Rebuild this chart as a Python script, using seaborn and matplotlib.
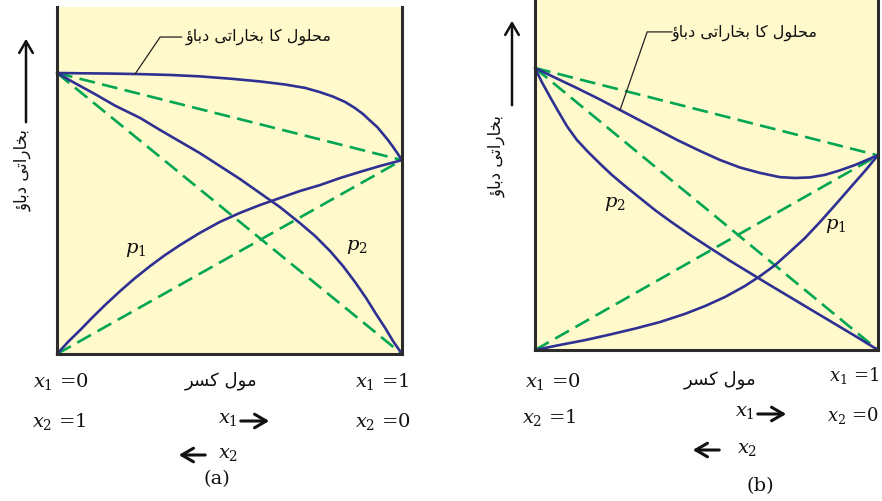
import matplotlib
matplotlib.use("Agg")
import matplotlib.pyplot as plt
from matplotlib.patches import FancyArrowPatch
import seaborn as sns

sns.set_theme(style="white")
plt.rcParams["font.family"] = ["DejaVu Serif", "DejaVu Sans"]
plt.rcParams["mathtext.fontset"] = "dejavuserif"

# ---------------- data (mole fraction x1, vapour pressure) ----------------
P1_PURE = 69.0    # vapour pressure of pure component 1
P2_PURE = 100.0   # vapour pressure of pure component 2

# (a) positive deviation
a_total_x = [0, .067, .154, .241, .328, .414, .510, .588, .661, .719, .762, .800,
             .835, .864, .887, .907, .928, .945, .959, .974, .988, 1.0]
a_total_p = [100, 99.9, 99.8, 99.6, 99.3, 98.8, 97.9, 97.0, 95.9, 94.7, 93.2, 91.6,
             89.7, 87.5, 85.4, 83.1, 80.8, 78.3, 76.2, 73.7, 71.2, 69.0]
a_p2_x = [0, .052, .110, .168, .241, .299, .348, .414, .472, .530, .588, .646,
          .704, .748, .791, .829, .864, .896, .925, .951, .974, 1.0]
a_p2_p = [100, 96.4, 92.5, 88.4, 84.0, 79.7, 76.2, 71.5, 66.9, 62.3, 57.3, 52.3,
          46.6, 42.0, 36.7, 31.3, 25.6, 19.9, 14.2, 9.3, 4.6, 0]
a_p1_x = [0, .032, .067, .101, .139, .183, .226, .270, .313, .357, .414, .472,
          .530, .588, .646, .704, .762, .820, .878, .936, 1.0]
a_p1_p = [0, 4.3, 8.5, 12.8, 17.4, 22.4, 27.0, 31.3, 35.2, 38.8, 43.1, 47.0,
          50.2, 53.0, 55.5, 58.0, 60.1, 62.6, 64.8, 66.9, 69.0]

# (b) negative deviation
b_total_x = [0, .058, .122, .190, .248, .306, .364, .414, .481, .539, .598, .656,
             .714, .758, .802, .845, .889, .933, .968, 1.0]
b_total_p = [100, 96.6, 92.9, 88.8, 85.1, 81.4, 77.7, 74.5, 70.6, 67.4, 64.7, 62.8,
             61.3, 61.0, 61.2, 62.1, 63.7, 65.6, 67.4, 69.1]
b_p2_x = [0, .020, .044, .067, .093, .122, .155, .190, .224, .262, .306, .350,
          .394, .452, .510, .569, .627, .685, .743, .802, .860, .933, 1.0]
b_p2_p = [100, 95.0, 89.7, 84.8, 79.4, 74.5, 70.2, 66.0, 62.1, 58.2, 53.9, 49.6,
          45.7, 40.8, 36.2, 31.6, 27.3, 23.0, 18.8, 14.5, 10.3, 5.0, 0]
b_p1_x = [0, .073, .146, .219, .292, .364, .437, .496, .554, .612, .656, .700,
          .743, .787, .831, .875, .918, .962, 1.0]
b_p1_p = [0, 1.8, 3.5, 5.5, 7.6, 9.9, 12.8, 15.6, 18.8, 22.7, 26.2, 30.1,
          34.8, 39.7, 45.4, 51.4, 57.4, 63.5, 69.1]

# ---------------- labels ----------------
TITLE_UR = "محلول کا بخاراتی دباؤ"
YLABEL_UR = "بخاراتی دباؤ"
XLABEL_UR = "مول کسر"

BLUE = "#2E3192"
GREEN = "#00A651"
CREAM = "#FFF9CC"
EDGE = "#2b2b2b"
INK = "#111111"
W, H = 882, 501

# Presentation forms (isolated, final, initial, medial) for the letters used
FORMS = {
    "ا": ("\uFE8D", "\uFE8E", None, None),
    "ب": ("\uFE8F", "\uFE90", "\uFE91", "\uFE92"),
    "ت": ("\uFE95", "\uFE96", "\uFE97", "\uFE98"),
    "ح": ("\uFEA1", "\uFEA2", "\uFEA3", "\uFEA4"),
    "خ": ("\uFEA5", "\uFEA6", "\uFEA7", "\uFEA8"),
    "د": ("\uFEA9", "\uFEAA", None, None),
    "ر": ("\uFEAD", "\uFEAE", None, None),
    "س": ("\uFEB1", "\uFEB2", "\uFEB3", "\uFEB4"),
    "ل": ("\uFEDD", "\uFEDE", "\uFEDF", "\uFEE0"),
    "م": ("\uFEE1", "\uFEE2", "\uFEE3", "\uFEE4"),
    "و": ("\uFEED", "\uFEEE", None, None),
    "ؤ": ("\uFE85", "\uFE86", None, None),
    "ک": ("\uFB8E", "\uFB8F", "\uFB90", "\uFB91"),
    "ی": ("\uFBFC", "\uFBFD", "\uFBFE", "\uFBFF"),
}


def shape_rtl(text):
    """Join Urdu letters into contextual forms and lay them out right-to-left."""
    out = []
    n = len(text)
    for i, ch in enumerate(text):
        if ch not in FORMS:
            out.append(ch)
            continue
        iso, fin, ini, med = FORMS[ch]
        prev = text[i - 1] if i > 0 else None
        nxt = text[i + 1] if i < n - 1 else None
        joins_prev = prev in FORMS and FORMS[prev][2] is not None
        joins_next = ini is not None and nxt in FORMS
        if joins_prev and joins_next:
            out.append(med)
        elif joins_prev:
            out.append(fin)
        elif joins_next:
            out.append(ini)
        else:
            out.append(iso)
    return "".join(reversed(out))


fig = plt.figure(figsize=(W / 100, H / 100), dpi=100)


def px(x, y):
    return (x / W, 1 - y / H)


def make_axes(left, top, right, bottom, ytop):
    ax = fig.add_axes([left / W, 1 - bottom / H, (right - left) / W, (bottom - top) / H])
    ax.set_facecolor(CREAM)
    ax.set_xlim(0, 1)
    ax.set_ylim(0, ytop)
    ax.set_xticks([])
    ax.set_yticks([])
    for side in ("left", "right", "bottom"):
        ax.spines[side].set_visible(True)
        ax.spines[side].set_color(EDGE)
        ax.spines[side].set_linewidth(2.2)
    ax.spines["top"].set_visible(False)
    return ax


def draw_panel(ax, total, p2, p1):
    ideal = dict(color=GREEN, lw=1.9, dashes=(6, 2.8), clip_on=False)
    sns.lineplot(x=[0, 1], y=[P2_PURE, P1_PURE], ax=ax, **ideal)
    sns.lineplot(x=[0, 1], y=[P2_PURE, 0], ax=ax, **ideal)
    sns.lineplot(x=[0, 1], y=[0, P1_PURE], ax=ax, **ideal)
    real = dict(color=BLUE, lw=1.9, sort=False, estimator=None, clip_on=False)
    for xs, ps in (total, p2, p1):
        sns.lineplot(x=xs, y=ps, ax=ax, **real)
    ax.set_xlabel("")
    ax.set_ylabel("")


ax_a = make_axes(57, 7, 402, 354, 347 / 2.81)
draw_panel(ax_a, (a_total_x, a_total_p), (a_p2_x, a_p2_p), (a_p1_x, a_p1_p))
ax_b = make_axes(535, 0, 878, 350, 350 / 2.82)
draw_panel(ax_b, (b_total_x, b_total_p), (b_p2_x, b_p2_p), (b_p1_x, b_p1_p))

# leader lines from the caption to the solution curve
ax_a.plot([0.362, 0.299, 0.226], [112.8, 112.8, 99.6], color="#222222", lw=0.9, clip_on=False)
ax_b.plot([0.40, 0.327, 0.248], [112.8, 112.8, 85.1], color="#222222", lw=0.9, clip_on=False)

urdu = dict(family=["DejaVu Sans"], color=INK, ha="center", va="center")
fig.text(*px(259, 37), shape_rtl(TITLE_UR), fontsize=11.5, **urdu)
fig.text(*px(745, 33), shape_rtl(TITLE_UR), fontsize=11.5, **urdu)
fig.text(*px(23, 170), shape_rtl(YLABEL_UR), fontsize=12, rotation=90, **urdu)
fig.text(*px(497, 156), shape_rtl(YLABEL_UR), fontsize=12, rotation=90, **urdu)
fig.text(*px(221, 381), shape_rtl(XLABEL_UR), fontsize=13, **urdu)
fig.text(*px(720, 380), shape_rtl(XLABEL_UR), fontsize=13, **urdu)


def arrow(x0, y0, x1, y1, lw=1.8, scale=14):
    fig.add_artist(FancyArrowPatch(px(x0, y0), px(x1, y1), transform=fig.transFigure,
                                   arrowstyle="->,head_length=0.6,head_width=0.35",
                                   mutation_scale=scale, lw=lw, color=INK))


# vertical pressure arrows
arrow(26, 125, 26, 36)
arrow(512, 108, 512, 18)

# mole-fraction labels
lab = dict(fontsize=14, color=INK, va="center")
fig.text(*px(33, 381), r"$x_{\mathit{1}}$ =0", ha="left", **lab)
fig.text(*px(32, 422), r"$x_2$ =1", ha="left", **lab)
fig.text(*px(355, 381), r"$x_{\mathit{1}}$ =1", ha="left", **lab)
fig.text(*px(355, 422), r"$x_2$ =0", ha="left", **lab)
fig.text(*px(218, 419), r"$x_{\mathit{1}}$", ha="left", **lab)
arrow(238, 421, 272, 421, lw=2.2)
arrow(208, 455, 176, 455, lw=2.2)
fig.text(*px(218, 454), r"$x_2$", ha="left", **lab)
fig.text(*px(217, 479), "(a)", ha="center", fontsize=14, color=INK, va="center")

fig.text(*px(525, 381), r"$x_{\mathit{1}}$ =0", ha="left", **lab)
fig.text(*px(522, 418), r"$x_2$ =1", ha="left", **lab)
edge_lab = dict(lab, fontsize=13)
fig.text(*px(879, 376), r"$x_{\mathit{1}}$ =1", ha="right", **edge_lab)
fig.text(*px(879, 416), r"$x_2$ =0", ha="right", **edge_lab)
fig.text(*px(735, 412), r"$x_{\mathit{1}}$", ha="left", **lab)
arrow(755, 414, 789, 414, lw=2.2)
arrow(722, 450, 690, 450, lw=2.2)
fig.text(*px(737, 449), r"$x_2$", ha="left", **lab)
fig.text(*px(760, 486), "(b)", ha="center", fontsize=14, color=INK, va="center")

# component pressure labels
plab = dict(fontsize=14, color=INK, ha="center", va="center")
fig.text(*px(136, 250), r"$p_{\mathit{1}}$", **plab)
fig.text(*px(357, 247), r"$p_2$", **plab)
fig.text(*px(615, 204), r"$p_2$", **plab)
fig.text(*px(836, 226), r"$p_{\mathit{1}}$", **plab)

fig.savefig("out.png", dpi=100)
